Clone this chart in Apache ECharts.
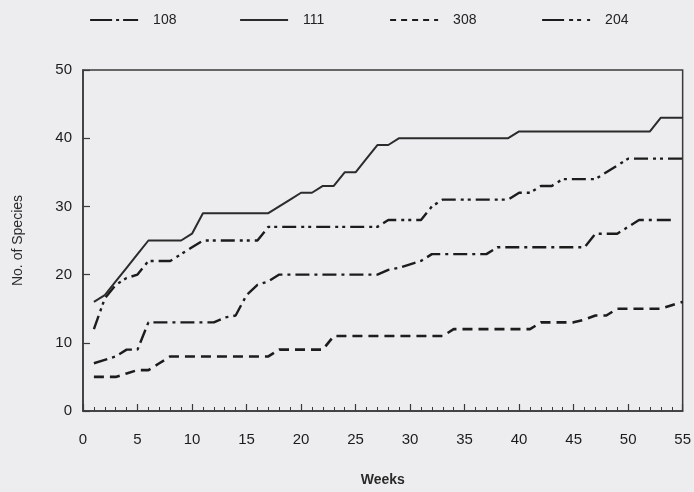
<!DOCTYPE html>
<html>
<head>
<meta charset="utf-8">
<script src="https://cdn.jsdelivr.net/npm/echarts@6/dist/echarts.min.js"></script>
<style>
html,body{margin:0;padding:0;background:#edecef;}
#chart{width:694px;height:492px;}
</style>
</head>
<body>
<div id="chart"></div>
<script>
// Weeks (x values)
const weeks = [1,2,3,4,5,6,7,8,9,10,11,12,13,14,15,16,17,18,19,20,21,22,23,24,25,26,27,28,29,30,31,32,33,34,35,36,37,38,39,40,41,42,43,44,45,46,47,48,49,50,51,52,53,54,55];

// Series 108 (lower dash-dot), weeks 1..54
const s108 = [7,7.5,8,9,9,13,13,13,13,13,13,13,13.7,14,17,18.5,19,20,20,20,20,20,20,20,20,20,20,20.7,21,21.5,22,23,23,23,23,23,23,24,24,24,24,24,24,24,24,24,26,26,26,27,28,28,28,28];
// Series 111 (solid)
const s111 = [16,17,19,21,23,25,25,25,25,26,29,29,29,29,29,29,29,30,31,32,32,33,33,35,35,37,39,39,40,40,40,40,40,40,40,40,40,40,40,41,41,41,41,41,41,41,41,41,41,41,41,41,43,43,43];
// Series 308 (dashed)
const s308 = [5,5,5,5.5,6,6,7,8,8,8,8,8,8,8,8,8,8,9,9,9,9,9,11,11,11,11,11,11,11,11,11,11,11,12,12,12,12,12,12,12,12,13,13,13,13,13.4,14,14,15,15,15,15,15,15.5,16];
// Series 204 (upper dash-dot-dot)
const s204 = [12,16.5,18.5,19.5,20,22,22,22,23,24,25,25,25,25,25,25,27,27,27,27,27,27,27,27,27,27,27,28,28,28,28,30,31,31,31,31,31,31,31,32,32,33,33,34,34,34,34,35,36,37,37,37,37,37,37];

const seriesNames = ['108','111','308','204'];
const xTicks = [0,5,10,15,20,25,30,35,40,45,50,55];
const yTicks = [0,10,20,30,40,50];

function pairs(vals){ return vals.map((v,i)=>[weeks[i], v]); }

const chart = echarts.init(document.getElementById('chart'), null, {renderer:'canvas'});
const font = 'Liberation Sans, Arial, sans-serif';
const ink = '#1c1c1c';

const styles = {
  '108': {type:[14,5,3,5], width:2.4, color:ink},
  '111': {type:'solid', width:2, color:'#2b2b2b'},
  '308': {type:[10,6], width:2.6, color:ink},
  '204': {type:[14,5,3,4,3,5], width:2.4, color:ink}
};
const legendStyles = {
  '108': {type:[22,4,3,4], width:2.2, color:ink},
  '111': {type:'solid', width:2.2, color:'#2b2b2b'},
  '308': {type:[6,5], width:2.2, color:ink},
  '204': {type:[22,5,4,4,4,6], width:2.2, color:ink}
};
const dataMap = {'108':s108,'111':s111,'308':s308,'204':s204};

const legendLefts = [84, 234, 384, 536];
const legends = seriesNames.map((n,i)=>({
  data:[n], left: legendLefts[i], top: 8,
  itemWidth: 48, itemHeight: 10,
  lineStyle: legendStyles[n],
  itemStyle: {color:'transparent', borderColor:'transparent', borderWidth:0, opacity:0},
  textStyle:{fontFamily:font, fontSize:14, color:'#222', padding:[0,0,0,10]}
}));

chart.setOption({
  animation:false,
  backgroundColor:'#edecef',
  legend: legends,
  grid:{left:83, right:9, top:70, bottom:81, show:true, borderColor:'#3a3a3a', borderWidth:1.5, backgroundColor:'transparent'},
  xAxis:{
    type:'value', min:xTicks[0], max:xTicks[xTicks.length-1], interval:5,
    name:'Weeks', nameLocation:'middle', nameGap:62,
    nameTextStyle:{fontFamily:font, fontSize:14, fontWeight:'bold', color:'#2a2a2a'},
    axisLine:{show:true, lineStyle:{color:'#3a3a3a', width:1.5}},
    axisTick:{show:true, inside:true, length:7, lineStyle:{color:'#3a3a3a', width:1.2}},
    minorTick:{show:true, splitNumber:5, length:4, lineStyle:{color:'#3a3a3a', width:1}},
    splitLine:{show:false},
    axisLabel:{fontFamily:font, fontSize:15, color:ink, margin:21,
      formatter:(v)=> xTicks.includes(v) ? String(v) : ''}
  },
  yAxis:{
    type:'value', min:yTicks[0], max:yTicks[yTicks.length-1], interval:10,
    name:'No. of Species', nameLocation:'middle', nameGap:58,
    nameTextStyle:{fontFamily:font, fontSize:14, color:'#2a2a2a'},
    axisLine:{show:true, lineStyle:{color:'#3a3a3a', width:1.5}},
    axisTick:{show:true, inside:true, length:7, lineStyle:{color:'#3a3a3a', width:1.2}},
    splitLine:{show:false},
    axisLabel:{fontFamily:font, fontSize:15, color:ink, margin:11,
      formatter:(v)=> yTicks.includes(v) ? String(v) : ''}
  },
  series: seriesNames.map(n=>({
    name:n, type:'line', data:pairs(dataMap[n]),
    showSymbol:false, symbol:'none', smooth:false,
    lineStyle:styles[n], itemStyle:{color:styles[n].color},
    z: n==='111'?3:2
  }))
});
</script>
</body>
</html>
